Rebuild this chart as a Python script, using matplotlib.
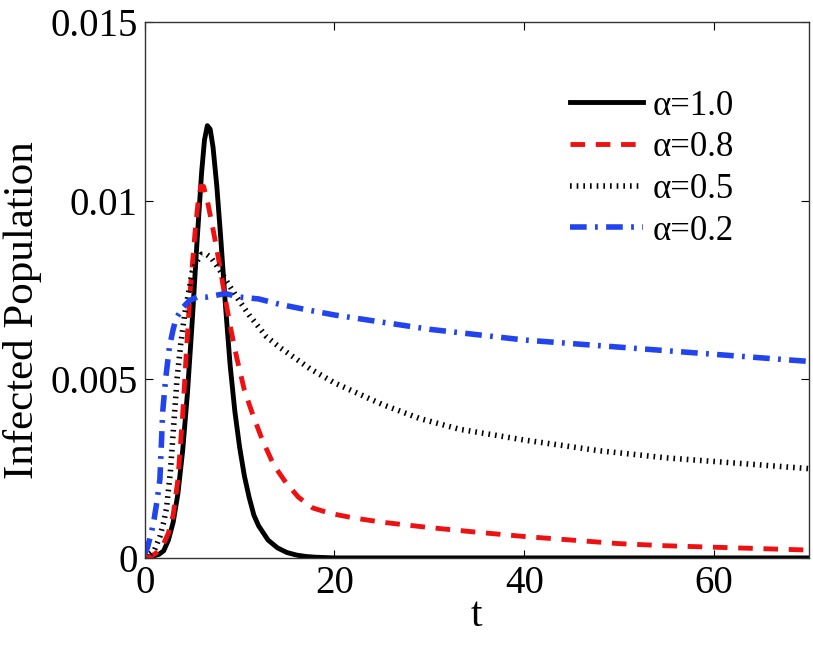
import numpy as np
import matplotlib
matplotlib.use('Agg')
import matplotlib.pyplot as plt

plt.rcParams['font.family'] = ['Liberation Serif', 'DejaVu Serif']

# alpha = 1.0
t1 = [0, 1, 1.5, 2, 2.5, 3, 3.5, 4, 4.5, 5, 5.5, 6.0, 6.3, 6.6, 6.9, 7.2, 7.6, 8, 8.5, 9, 9.5, 10, 10.5,
      11, 11.5, 12, 13, 14, 15, 16, 17, 18, 20, 30, 40, 50, 60, 70]
y1 = [0.00003, 0.00006, 0.0001, 0.0002, 0.0005, 0.0010, 0.0018, 0.0030, 0.0046, 0.0066, 0.0088, 0.0108,
      0.0117, 0.0121, 0.0120, 0.0115, 0.0104, 0.0090, 0.0071, 0.0054, 0.0041, 0.0031, 0.0023,
      0.0017, 0.0012, 0.0009, 0.0005, 0.00028, 0.00015, 0.00008, 0.00004, 0.00002, 0.0, 0.0, 0.0, 0.0, 0.0, 0.0]

# alpha = 0.8
t2 = [0, 0.5, 1, 1.5, 2, 2.5, 3, 3.5, 4, 4.4, 4.8, 5.3, 5.6, 5.9, 6.2, 6.6, 7.2, 7.9, 8.4, 9, 9.7, 10.5,
      11.4, 12.4, 13.6, 14.9, 16.2, 17.7, 19.5, 22, 25, 30, 35, 40, 45, 50, 55, 60, 65, 70]
y2 = [0.0, 0.00003, 0.0001, 0.0002, 0.0004, 0.0007, 0.0012, 0.0022, 0.0040, 0.0058, 0.0075, 0.0091,
      0.0099, 0.0104, 0.0104, 0.0100, 0.0092, 0.0082, 0.0074, 0.0065, 0.0056, 0.0047,
      0.0040, 0.0033, 0.0026, 0.0021, 0.0017, 0.0014, 0.00125, 0.00112, 0.0010, 0.00085, 0.00072,
      0.0006, 0.0005, 0.0004, 0.00034, 0.0003, 0.00026, 0.00022]

# alpha = 0.5
t3 = [0, 0.5, 1, 1.6, 2, 2.3, 2.7, 3.0, 3.4, 3.8, 4.2, 4.6, 5.0, 5.5, 6.0, 6.5, 7.0, 7.8, 8.5, 9.7, 11,
      12.8, 14.2, 15.8, 17.4, 20, 22.5, 25, 29, 33.2, 40, 47.9, 55, 60, 65, 70]
y3 = [0.0, 0.0001, 0.0002, 0.0006, 0.0010, 0.0014, 0.0024, 0.0035, 0.0050, 0.0060, 0.0068, 0.0074,
      0.0080, 0.0083, 0.0085, 0.0085, 0.0084, 0.0081, 0.0078, 0.0073, 0.0068,
      0.0062, 0.0059, 0.0056, 0.0053, 0.0049, 0.0046, 0.0043, 0.0039, 0.0036, 0.0033, 0.0030,
      0.0028, 0.0027, 0.0026, 0.0025]

# alpha = 0.2
t4 = [0, 0.3, 0.7, 1.0, 1.3, 1.6, 1.9, 2.2, 2.6, 3.0, 3.3, 4.0, 4.7, 5.5, 6.5, 8.5, 10, 12, 14.2, 17,
      20, 25, 30, 35, 40, 45, 50, 55, 60, 65, 70]
y4 = [0.0001, 0.0003, 0.0007, 0.0011, 0.0016, 0.0022, 0.0041, 0.0050, 0.0059, 0.0064, 0.0067, 0.0070,
      0.0072, 0.0073, 0.0073, 0.0074, 0.0073, 0.00725, 0.0071, 0.00695,
      0.0068, 0.0066, 0.0064, 0.00625, 0.0061, 0.0060, 0.0059, 0.0058, 0.0057, 0.0056, 0.0055]

labels = ['α=1.0', 'α=0.8', 'α=0.5', 'α=0.2']
xticks = [0, 20, 40, 60]
yticks = [0, 0.005, 0.01, 0.015]
ytick_labels = ['0', '0.005', '0.01', '0.015']

fig = plt.figure(figsize=(8.13, 6.48), dpi=100)
ax = fig.add_axes([0.178, 0.139, 0.817, 0.827])

ax.plot(t1, y1, color='black', lw=3.5, ls='-', label=labels[0])
ax.plot(t2, y2, color='#ee1111', lw=3.5, ls=(0, (3, 2.2)), label=labels[1])
ax.plot(t3, y3, color='black', lw=4.0, ls=(0, (0.3, 0.9)), dash_capstyle='butt', label=labels[2])
ax.plot(t4, y4, color='#2244ee', lw=4.0, ls=(0, (3, 1.5, 0.5, 1.5)), label=labels[3])

ax.set_xlim(0, 70)
ax.set_ylim(0, 0.015)
ax.set_xticks(xticks)
ax.set_yticks(yticks)
ax.set_yticklabels(ytick_labels)
ax.tick_params(direction='in', top=True, right=True, length=6, width=0.8, labelsize=28, pad=5)
for s in ax.spines.values():
    s.set_linewidth(1.0)
    s.set_color('#333333')

ax.set_xlabel('t', fontsize=30, labelpad=-4)
ax.set_ylabel('Infected Population', fontsize=31)
ax.yaxis.set_label_coords(-0.155, 0.463)

ax.legend(loc='upper left', frameon=False, fontsize=25, handlelength=2.1,
          handletextpad=0.28, labelspacing=0.25, borderpad=0, borderaxespad=0,
          bbox_to_anchor=(0.64, 0.874))

fig.savefig('out.png', dpi=100)
